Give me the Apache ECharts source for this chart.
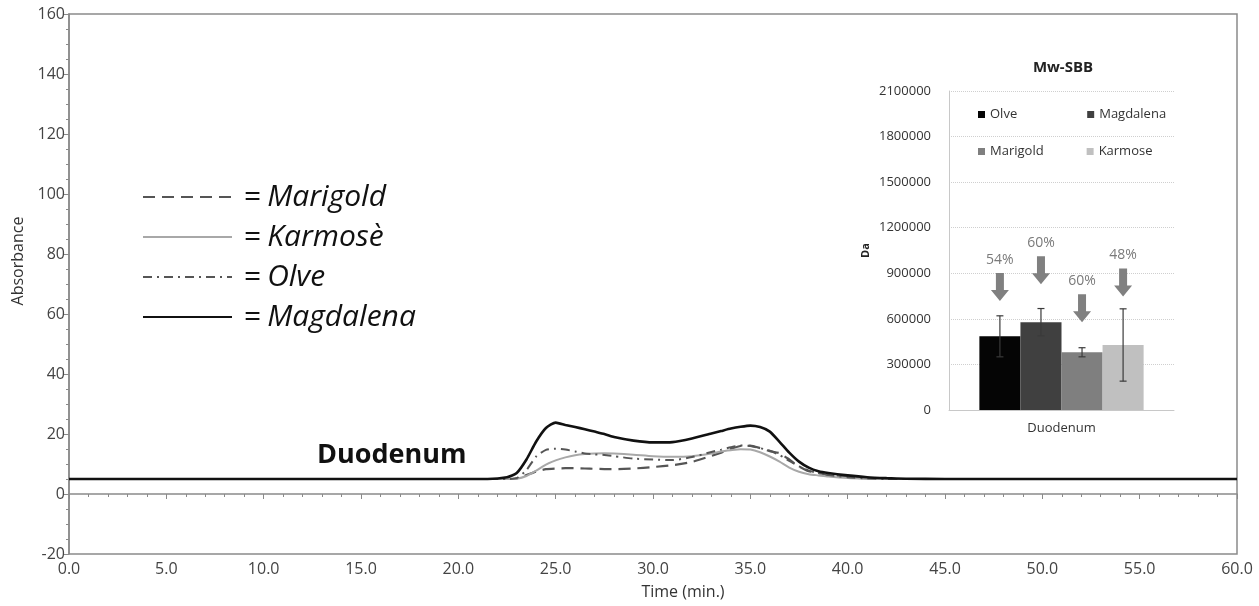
<!DOCTYPE html>
<html>
<head>
<meta charset="utf-8">
<script src="https://cdn.jsdelivr.net/npm/echarts@6/dist/echarts.min.js"></script>
<style>
  html, body { margin: 0; background: #fff; }
  #output { width: 1259px; height: 606px; }
</style>
</head>
<body>
<div id="output"></div>
<script>
const chart = echarts.init(document.getElementById('output'));

// chromatogram, time in minutes
const times = [0, 5, 10, 15, 20, 21.5, 22.5, 23, 23.5, 24, 24.5, 25, 25.5, 26, 26.5, 27, 27.5, 28,
  29, 30, 31, 32, 33, 33.5, 34, 34.5, 35, 35.5, 36, 36.5, 37, 37.5, 38, 38.5, 39,
  40, 41, 42, 43, 45, 50, 55, 60];
const marigold = [5, 5, 5, 5, 5, 5, 5, 5.2, 6.3, 7.5, 8.3, 8.5, 8.6, 8.6, 8.5, 8.4, 8.3, 8.3,
  8.5, 9, 9.6, 10.7, 12.7, 13.8, 15, 16, 16.1, 15.3, 14.3, 13.6, 11.5, 9.2, 7.6, 7, 6.3,
  5.6, 5.2, 5, 5, 5, 5, 5, 5];
const karmose = [5, 5, 5, 5, 5, 5, 5, 5.1, 6, 7.8, 9.8, 11.2, 12.2, 12.9, 13.3, 13.5, 13.6, 13.5,
  13.1, 12.6, 12.4, 12.6, 13.5, 14.2, 14.6, 14.9, 14.8, 13.9, 12.5, 10.8, 8.8, 7.4, 6.6, 6.2, 5.8,
  5.3, 5.1, 5, 5, 5, 5, 5, 5];
const olve = [5, 5, 5, 5, 5, 5, 5, 5.3, 8, 12.5, 14.7, 15.1, 14.8, 14.2, 13.5, 13.2, 13, 12.6,
  11.8, 11.5, 11.3, 12.3, 14, 14.8, 15.6, 16.2, 16, 15.3, 14.4, 13, 11, 9.2, 7.8, 7, 6.3,
  5.6, 5.2, 5, 5, 5, 5, 5, 5];
const magdalena = [5, 5, 5, 5, 5, 5, 5.6, 7, 11.5, 17.5, 22, 23.8, 23, 22.3, 21.6, 20.8, 20, 19,
  17.8, 17.2, 17.3, 18.5, 20.2, 21, 21.8, 22.4, 22.8, 22.3, 20.8, 17.4, 13.8, 10.8, 8.8, 7.6, 7,
  6.2, 5.6, 5.3, 5.1, 5, 5, 5, 5];
const lineNames = ['Marigold', 'Karmosè', 'Olve', 'Magdalena'];

// inset: Mw-SBB (Da)
const insetCategories = ['Duodenum'];
const barNames = ['Olve', 'Magdalena', 'Marigold', 'Karmose'];
const barMeans = [485000, 578000, 380000, 428000];
const barErrors = [135000, 90000, 30000, 238000];
const arrowLabels = ['54%', '60%', '60%', '48%'];
const arrowLevels = [810000, 920000, 670000, 840000];

const barColors = ['#050505', '#404040', '#7f7f7f', '#c0c0c0'];
const axisGray = '#8a8a8a';
const font = 'Open Sans';

const pairs = vals => times.map((t, i) => [t, vals[i]]);

const lineSeries = [
  { name: 'Marigold', data: pairs(marigold), color: '#555', lineStyle: { width: 2.2, type: [12, 7] } },
  { name: 'Karmosè', data: pairs(karmose), color: '#a8a8a8', lineStyle: { width: 2, type: 'solid' } },
  { name: 'Olve', data: pairs(olve), color: '#555', lineStyle: { width: 2, type: [9, 5, 2, 5] } },
  { name: 'Magdalena', data: pairs(magdalena), color: '#111', lineStyle: { width: 2.6, type: 'solid' } }
].map((s, i) => Object.assign({
  type: 'line', showSymbol: false, symbol: 'none', smooth: 0.2, z: 2 + i
}, s));

const arrowPath = 'path://M5,0 L13,0 L13,17 L18,17 L9,28 L0,17 L5,17 Z';

const barSeries = barNames.map((name, i) => ({
  type: 'bar',
  name,
  xAxisIndex: 1,
  yAxisIndex: 1,
  data: [barMeans[i]],
  itemStyle: { color: barColors[i] },
  barGap: 0,
  barCategoryGap: '27%',
  markPoint: {
    symbol: arrowPath,
    symbolSize: [18, 28],
    itemStyle: { color: '#808080' },
    label: {
      show: true, position: 'top', distance: 6, formatter: '{b}',
      color: '#7a7a7a', fontSize: 14, fontFamily: font
    },
    data: [{ name: arrowLabels[i], coord: [0, arrowLevels[i]] }]
  }
}));

const errorSeries = {
  type: 'custom',
  xAxisIndex: 1,
  yAxisIndex: 1,
  z: 10,
  data: barMeans.map((m, i) => [0, m - barErrors[i], m + barErrors[i], i]),
  encode: { x: 0, y: [1, 2] },
  renderItem (params, api) {
    const i = api.value(3);
    const lo = api.coord([0, api.value(1)]);
    const hi = api.coord([0, api.value(2)]);
    const bw = api.size([1, 0])[0] * 0.73 / 4;
    const x = lo[0] + (i - 1.5) * bw;
    const st = { stroke: '#3a3a3a', lineWidth: 1.2 };
    return {
      type: 'group',
      children: [
        { type: 'line', shape: { x1: x, y1: lo[1], x2: x, y2: hi[1] }, style: st },
        { type: 'line', shape: { x1: x - 3.5, y1: hi[1], x2: x + 3.5, y2: hi[1] }, style: st },
        { type: 'line', shape: { x1: x - 3.5, y1: lo[1], x2: x + 3.5, y2: lo[1] }, style: st }
      ]
    };
  }
};

const rectItem = (name, i) => ({
  name, icon: 'rect', itemStyle: { color: barColors[i], borderWidth: 0, opacity: 1 }
});

const option = {
  animation: false,
  backgroundColor: '#fff',
  grid: [
    { left: 69, right: 22, top: 14, bottom: 52, show: true, borderColor: axisGray, borderWidth: 1.5 },
    { left: 949, width: 225, top: 91, height: 319 }
  ],
  xAxis: [
    {
      type: 'value', min: 0, max: 60, interval: 5,
      axisLine: { lineStyle: { color: axisGray, width: 1.5 } },
      axisTick: { length: 5, lineStyle: { color: axisGray } },
      minorTick: { show: true, splitNumber: 5, length: 3, lineStyle: { color: axisGray } },
      splitLine: { show: false },
      axisLabel: { formatter: v => v.toFixed(1), color: '#444', fontSize: 16, fontFamily: font, margin: 7 },
      name: 'Time (min.)', nameLocation: 'middle', nameGap: 30,
      nameTextStyle: { color: '#333', fontSize: 16, fontFamily: font, padding: [0, 0, 0, 60] }
    },
    {
      type: 'category', gridIndex: 1, data: insetCategories,
      axisTick: { show: false },
      axisLine: { lineStyle: { color: '#c8c8c8' } },
      axisLabel: { color: '#333', fontSize: 13, fontFamily: font, margin: 12 }
    }
  ],
  yAxis: [
    {
      type: 'value', min: -20, max: 160, interval: 20,
      axisLine: { show: true, lineStyle: { color: axisGray, width: 1.5 } },
      axisTick: { show: true, length: 5, lineStyle: { color: axisGray } },
      minorTick: { show: true, splitNumber: 4, length: 3, lineStyle: { color: axisGray } },
      splitLine: { show: false },
      axisLabel: { color: '#444', fontSize: 16, fontFamily: font, margin: 4 },
      name: 'Absorbance', nameLocation: 'middle', nameGap: 31,
      nameTextStyle: { color: '#333', fontSize: 16, fontFamily: font, padding: [0, 0, 0, 46] }
    },
    {
      type: 'value', gridIndex: 1, min: 0, max: 2100000, interval: 300000,
      axisLine: { show: true, lineStyle: { color: '#c8c8c8' } },
      axisTick: { show: false },
      splitLine: { lineStyle: { type: 'dotted', color: '#cfcfcf' } },
      axisLabel: { formatter: v => String(v), color: '#333', fontSize: 13, fontFamily: font, margin: 18 },
      name: 'Da', nameLocation: 'middle', nameGap: 78,
      nameTextStyle: { color: '#222', fontSize: 11, fontWeight: 'bold', fontFamily: font }
    }
  ],
  legend: [
    {
      data: lineNames,
      orient: 'vertical', left: 137, top: 177,
      itemWidth: 89, itemHeight: 14, itemGap: 10,
      itemStyle: { opacity: 0 },
      formatter: name => '{eq|=}{nm|' + name + '}',
      textStyle: {
        color: '#111',
        rich: {
          eq: { fontSize: 30, fontFamily: font, color: '#111', lineHeight: 30, padding: [0, 6, 0, 7] },
          nm: { fontSize: 30, fontFamily: font, fontStyle: 'italic', color: '#111', lineHeight: 30 }
        }
      }
    },
    {
      data: [rectItem('Olve', 0), rectItem('Magdalena', 1)],
      left: 973, top: 103, itemWidth: 7, itemHeight: 7, itemGap: 70,
      textStyle: { color: '#333', fontSize: 13, fontFamily: font }
    },
    {
      data: [rectItem('Marigold', 2), rectItem('Karmose', 3)],
      left: 973, top: 140, itemWidth: 7, itemHeight: 7, itemGap: 43,
      textStyle: { color: '#333', fontSize: 13, fontFamily: font }
    }
  ],
  graphic: [
    {
      type: 'text', x: 317, y: 455,
      style: { text: 'Duodenum', font: 'bold 27px "Open Sans"', fill: '#111', verticalAlign: 'middle' }
    },
    {
      type: 'text', x: 1063, y: 68,
      style: { text: 'Mw-SBB', font: 'bold 15px "Open Sans"', fill: '#222', align: 'center', verticalAlign: 'middle' }
    }
  ],
  series: [...lineSeries, ...barSeries, errorSeries]
};

chart.setOption(option);
</script>
</body>
</html>
